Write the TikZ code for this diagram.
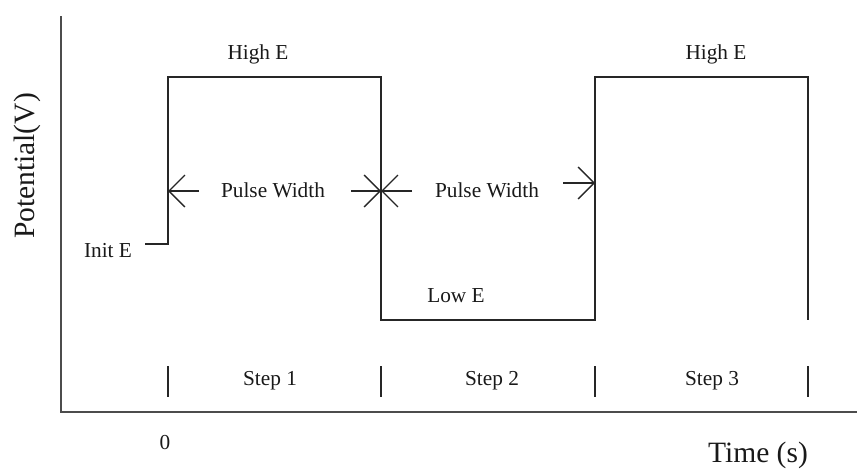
\documentclass[tikz,border=0pt]{standalone}
\usepackage{fontspec}
\setmainfont{Liberation Serif}
\usetikzlibrary{arrows.meta}
\begin{document}
\begin{tikzpicture}[x=1pt,y=-1pt,
  wave/.style={line width=1.4pt,draw=black!85},
  axisline/.style={line width=1.8pt,draw=black!70},
  tickline/.style={line width=1.4pt,draw=black!85},
  pw/.style={line width=1.3pt,draw=black!85,-{Straight Barb[length=16pt,width=32pt,line width=1.3pt]}},
  lbl/.style={font=\fontsize{21.3}{24}\selectfont,inner sep=0pt,text=black!90},
  biglbl/.style={font=\fontsize{29.5}{34}\selectfont,inner sep=0pt,text=black!90}]
\useasboundingbox (0,0) rectangle (857,469);
% axes
\coordinate (o) at (61,412);
\coordinate (ytop) at (61,16);
\coordinate (xend) at (857,412);
\draw[axisline] (ytop) -- (o) -- (xend);
% waveform corners
\coordinate (i0) at (145,244);
\coordinate (i1) at (168,244);
\coordinate (a1) at (168,77);
\coordinate (a2) at (381,77);
\coordinate (b1) at (381,320);
\coordinate (b2) at (595,320);
\coordinate (c1) at (595,77);
\coordinate (c2) at (808,77);
\coordinate (c3) at (808,320);
\draw[wave] (i0) -- (i1) -- (a1) -- (a2) -- (b1) -- (b2) -- (c1) -- (c2) -- (c3);
% pulse width arrows
\coordinate (p1s) at (199,191);
\coordinate (p1t) at (168,191);
\coordinate (p2s) at (351,191);
\coordinate (p2t) at (381,191);
\coordinate (p3s) at (412,191);
\coordinate (p4s) at (563,183);
\coordinate (p4t) at (595,183);
\draw[pw] (p1s) -- (p1t);
\draw[pw] (p2s) -- (p2t);
\draw[pw] (p3s) -- (p2t);
\draw[pw] (p4s) -- (p4t);
% ticks
\foreach \n/\x in {t1/168,t2/381,t3/595,t4/808}{
  \coordinate (\n a) at (\x,366);
  \coordinate (\n b) at (\x,397);
  \draw[tickline] (\n a) -- (\n b);
}
% labels
\node[lbl] (h1) at (258,54) {High E};
\node[lbl] (h2) at (716,54) {High E};
\node[lbl] (w1) at (273,190) {Pulse Width};
\node[lbl] (w2) at (487,190) {Pulse Width};
\node[lbl] (ie) at (108,251) {Init E};
\node[lbl] (le) at (456,296) {Low E};
\node[lbl] (s1) at (270,381) {Step 1};
\node[lbl] (s2) at (492,381) {Step 2};
\node[lbl] (s3) at (712,381) {Step 3};
\node[lbl] (zero) at (165,443) {0};
\node[biglbl] (tl) at (758,455) {Time (s)};
\node[biglbl,rotate=90] (pl) at (27,166) {Potential(V)};
\end{tikzpicture}
\end{document}
